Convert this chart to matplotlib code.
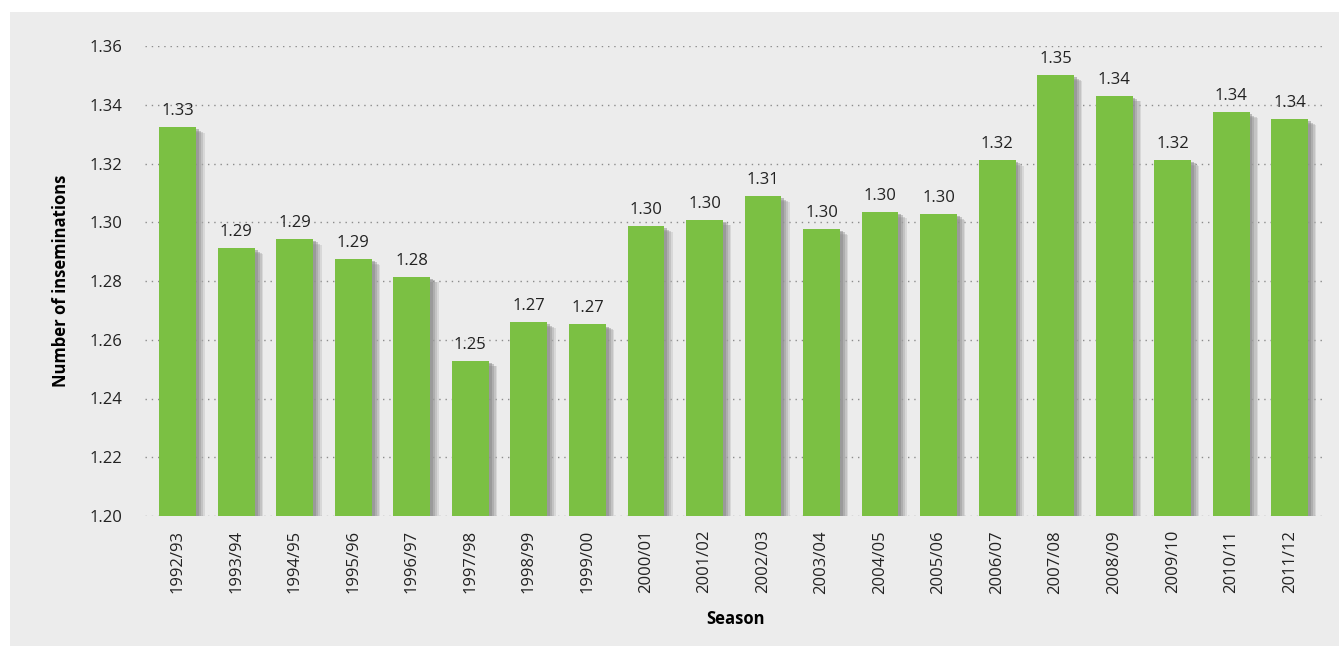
import matplotlib.pyplot as plt
import matplotlib.patheffects as pe
from matplotlib.patches import Rectangle

# Data
seasons = ['1992/93', '1993/94', '1994/95', '1995/96', '1996/97', '1997/98', '1998/99',
           '1999/00', '2000/01', '2001/02', '2002/03', '2003/04', '2004/05', '2005/06',
           '2006/07', '2007/08', '2008/09', '2009/10', '2010/11', '2011/12']
inseminations = [1.3324, 1.2912, 1.2943, 1.2875, 1.2814, 1.2528, 1.2660, 1.2652, 1.2987, 1.3008,
                 1.3089, 1.2977, 1.3035, 1.3028, 1.3212, 1.3501, 1.3430, 1.3212, 1.3375, 1.3351]
yticks = [1.20, 1.22, 1.24, 1.26, 1.28, 1.30, 1.32, 1.34, 1.36]

plt.rcParams['font.family'] = ['Open Sans', 'DejaVu Sans']

fig = plt.figure(figsize=(13.39, 6.46), dpi=100)
fig.patch.set_facecolor('white')
# grey panel behind the chart
fig.patches.append(Rectangle((10 / 1339, 0), 1, 1 - 12 / 646, transform=fig.transFigure,
                             facecolor='#ececec', edgecolor='none', zorder=-10))

ax = fig.add_axes([145 / 1339, 1 - 516 / 646, (1326 - 145) / 1339, (516 - 46) / 646])
ax.set_facecolor('none')

x = range(len(seasons))
# soft drop shadow: a few stacked offset copies
shadow = [pe.SimplePatchShadow(offset=(6, -4), shadow_rgbFace='#b5b5b5', alpha=0.35),
          pe.SimplePatchShadow(offset=(5, -3.5), shadow_rgbFace='#a5a5a5', alpha=0.4),
          pe.SimplePatchShadow(offset=(3.5, -2.5), shadow_rgbFace='#959595', alpha=0.45),
          pe.SimplePatchShadow(offset=(2, -1.5), shadow_rgbFace='#888888', alpha=0.5),
          pe.Normal()]
bars = ax.bar(x, [v - 1.20 for v in inseminations], bottom=1.20, width=0.63,
              color='#7bc043', zorder=3)
for b in bars:
    b.set_path_effects(shadow)

for i, v in enumerate(inseminations):
    ax.annotate(f'{v:.2f}', (i, v), xytext=(0, 6), textcoords='offset points',
                ha='center', va='bottom', fontsize=12, color='#222222', zorder=4)

ax.set_ylim(1.20, 1.36)
ax.set_xlim(-0.56, len(seasons) - 1 + 0.62)
ax.set_yticks(yticks)
ax.set_yticklabels([f'{t:.2f}' for t in yticks])
ax.set_xticks(list(x))
ax.set_xticklabels(seasons, rotation=90)
ax.tick_params(axis='both', length=0, labelsize=12, colors='#222222')
ax.tick_params(axis='y', pad=16)
ax.tick_params(axis='x', pad=10)

ax.yaxis.grid(True, linestyle=(0, (1, 3.5)), color='#8c8c8c', linewidth=1.0, zorder=0)
for s in ax.spines.values():
    s.set_visible(False)

ax.set_ylabel('Number of inseminations', fontsize=12, fontweight='bold', labelpad=14)
ax.set_xlabel('Season', fontsize=12, fontweight='bold', labelpad=12)

fig.savefig('out.png', dpi=100)
